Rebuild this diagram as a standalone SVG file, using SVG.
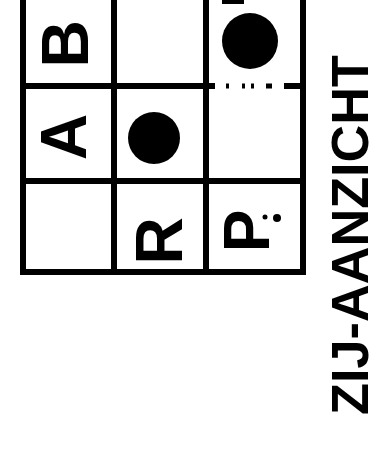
<svg xmlns="http://www.w3.org/2000/svg" width="385" height="472" viewBox="0 0 385 472">
<style>
.g{fill:none;stroke:#000;stroke-width:6;stroke-linecap:square}
.l{font-family:"Liberation Sans",Arial,sans-serif;font-weight:bold;fill:#000;text-anchor:middle}
.dot{fill:#000}
</style>
<rect width="385" height="472" fill="#fff"/>
<g id="grid">
<path class="g" d="M23,-10 V272 H303 V-10"/>
<path class="g" d="M114,-10 V272 M206,-10 V272"/>
<path class="g" d="M23,-6 H303"/>
<path class="g" d="M23,86 H212 M287,86 H303"/>
<path class="g" d="M23,181 H303"/>
<path d="M226,86 h3 M242,86 h3 M251,86 h3 M266,86 h6" stroke="#000" stroke-width="5" fill="none"/>
<path d="M222,0 H244 V4 H222 Z" fill="#000"/>
</g>
<g id="cell-B"><text class="l" font-size="66" transform="translate(64,44) rotate(-90)" y="24">B</text></g>
<g id="cell-A"><text class="l" font-size="64" transform="translate(63,137) rotate(-90)" y="23">A</text></g>
<g id="cell-dot1"><circle class="dot" cx="250" cy="41" r="28"/></g>
<g id="cell-dot2"><circle class="dot" cx="154" cy="138" r="26"/></g>
<g id="cell-R"><text class="l" font-size="66" transform="translate(158,241) rotate(-90)" y="24">R</text></g>
<g id="cell-P"><text class="l" font-size="64" transform="translate(246,231) rotate(-90)" y="23">P</text>
<circle class="dot" cx="265" cy="217" r="2.5"/><circle class="dot" cx="277" cy="218" r="4"/></g>
<g id="label"><text class="l" font-size="52" style="text-anchor:start" transform="translate(368,415) rotate(-90)" textLength="360" lengthAdjust="spacingAndGlyphs">ZIJ-AANZICHT</text></g>
</svg>
